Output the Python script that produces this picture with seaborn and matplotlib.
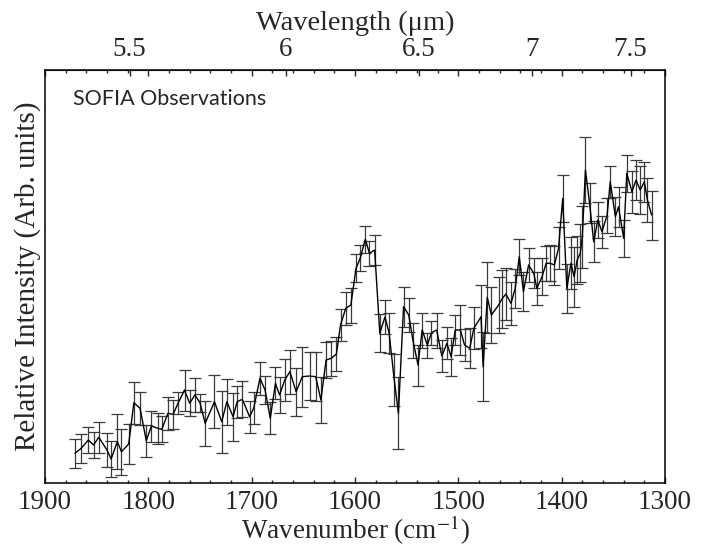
import numpy as np
import pandas as pd
import matplotlib
matplotlib.use("Agg")
import matplotlib.pyplot as plt
import seaborn as sns
from matplotlib.ticker import MultipleLocator, FixedLocator, NullLocator, FixedFormatter

wavenumber = [1871, 1865, 1858, 1853, 1848, 1840, 1836, 1830, 1826, 1819,
              1814, 1808, 1802, 1797, 1791, 1787, 1781, 1776, 1771, 1765,
              1760, 1755, 1750, 1745, 1736, 1729, 1724, 1718, 1714, 1709,
              1702, 1698, 1692, 1687, 1682, 1677, 1673, 1668, 1663, 1657,
              1651, 1644, 1638, 1633, 1628, 1623, 1618, 1614, 1609, 1604,
              1599, 1595, 1590, 1586, 1581, 1576, 1571, 1567, 1562, 1558,
              1553, 1548, 1544, 1539, 1535, 1530, 1526, 1521, 1516, 1511,
              1507, 1503, 1498, 1494, 1489, 1485, 1478, 1476, 1472, 1468,
              1461, 1458, 1454, 1449, 1445, 1441, 1437, 1432, 1427, 1424,
              1419, 1415, 1411, 1407, 1403, 1399, 1395, 1391, 1388, 1385,
              1382, 1380, 1377, 1373, 1369, 1365, 1361, 1356, 1353, 1348,
              1345, 1340, 1337, 1332, 1328, 1324, 1320, 1317, 1313]
intensity = [29.7, 34.7, 43.0, 38.0, 45.7, 33.0, 24.0, 41.3, 31.3, 39.0,
             80.3, 74.7, 42.3, 57.0, 54.7, 53.7, 69.7, 68.7, 80.3, 93.0,
             79.7, 88.0, 80.3, 59.7, 81.3, 61.3, 81.3, 66.3, 81.3, 83.7,
             66.3, 75.0, 104.7, 93.0, 64.7, 99.7, 88.0, 103.0, 111.3, 91.3,
             106.3, 107.0, 106.3, 83.0, 123.0, 124.7, 129.0, 158.0, 174.7, 178.0,
             214.7, 224.7, 243.7, 229.7, 233.0, 149.7, 166.0, 150.0, 103.0, 69.7,
             176.3, 168.0, 143.0, 118.0, 153.0, 138.0, 150.3, 153.0, 127.0, 139.7,
             126.3, 153.0, 153.0, 138.0, 134.7, 154.7, 166.3, 116.3, 185.7, 168.0,
             178.0, 183.7, 189.0, 179.7, 194.7, 226.3, 191.3, 218.0, 209.7, 194.7,
             206.3, 219.7, 219.7, 218.0, 235.0, 284.7, 194.7, 219.7, 206.3, 223.0,
             229.7, 246.3, 313.0, 279.7, 241.3, 263.0, 251.3, 268.0, 301.3, 266.3,
             276.3, 244.7, 309.7, 291.3, 303.0, 293.0, 301.3, 283.0, 268.0]
error = [14.8, 14.2, 12.8, 12.8, 15.8, 17.0, 18.0, 27.5, 23.0, 20.0,
         21.0, 16.7, 16.2, 15.5, 15.5, 13.0, 16.3, 14.3, 10.8, 20.5,
         13.0, 17.0, 9.0, 22.5, 26.7, 31.0, 23.0, 24.0, 16.0, 18.0,
         16.0, 16.0, 16.7, 14.0, 16.0, 16.0, 18.0, 21.0, 22.0, 24.0,
         30.0, 24.0, 24.5, 23.0, 18.0, 17.5, 17.0, 16.0, 16.7, 17.5,
         14.0, 13.0, 13.7, 12.5, 15.0, 19.0, 17.0, 20.0, 26.0, 36.0,
         20.0, 17.0, 17.5, 20.5, 17.5, 12.5, 12.0, 17.5, 16.0, 16.0,
         19.0, 15.0, 24.7, 16.0, 20.0, 21.0, 31.7, 34.7, 35.8, 27.7,
         27.8, 29.0, 26.0, 21.7, 19.7, 18.0, 19.7, 16.7, 15.0, 16.7,
         18.5, 17.5, 18.0, 19.5, 21.0, 23.7, 24.7, 26.0, 30.0, 23.7,
         29.0, 31.0, 33.0, 20.0, 20.5, 18.0, 16.0, 17.5, 16.0, 19.7,
         20.0, 18.7, 18.7, 21.0, 20.0, 24.0, 20.0, 22.0, 24.5]

wl_ticks = [5.5, 6, 6.5, 7, 7.5]
wl_labels = ["5.5", "6", "6.5", "7", "7.5"]

df = pd.DataFrame({"wn": wavenumber, "I": intensity, "err": error})

sns.set_style("ticks")
plt.rcParams["font.family"] = ["Liberation Serif", "DejaVu Serif"]
plt.rcParams["mathtext.fontset"] = "stix"

fig = plt.figure(figsize=(7.01, 5.47), dpi=100)
ax = fig.add_axes([45 / 701, 64 / 547, 620 / 701, 413 / 547])

ax.errorbar(df["wn"], df["I"], yerr=df["err"], fmt="none", ecolor="#3a3a3a",
            elinewidth=0.9, capsize=4.5, capthick=0.9, zorder=2)
sns.lineplot(data=df, x="wn", y="I", sort=False, color="black", linewidth=1.0,
             ax=ax, zorder=3)

ax.set_xlim(1900, 1300)
ax.set_ylim(0, 413)
ax.set_yticks([])
ax.xaxis.set_major_locator(MultipleLocator(100))
ax.xaxis.set_minor_locator(MultipleLocator(20))
ax.tick_params(axis="x", which="both", direction="in", top=True, labeltop=False,
               labelsize=19.5, pad=5, width=1.0)
ax.tick_params(axis="x", which="major", length=4.5)
ax.tick_params(axis="x", which="minor", length=2.5)
for s in ax.spines.values():
    s.set_linewidth(1.1)
    s.set_color("black")

ax.set_xlabel("Wavenumber (cm$^{-1}$)", fontsize=19.5, labelpad=-1)
ax.set_ylabel("Relative Intensity (Arb. units)", fontsize=21, labelpad=3)

sec = ax.secondary_xaxis("top", functions=(lambda x: 1e4 / x, lambda x: 1e4 / x))
sec.xaxis.set_major_locator(FixedLocator(wl_ticks))
sec.xaxis.set_major_formatter(FixedFormatter(wl_labels))
sec.xaxis.set_minor_locator(NullLocator())
sec.tick_params(axis="x", direction="in", length=4.5, width=1.0, labelsize=19.5, pad=6)
sec.set_xlabel("Wavelength (\u03bcm)", fontsize=20.5, labelpad=5)

ax.text(0.045, 0.93, "SOFIA Observations", transform=ax.transAxes,
        fontsize=15.5, family=["Lato", "DejaVu Sans"], va="center", ha="left")

fig.savefig("out.png", dpi=100)
